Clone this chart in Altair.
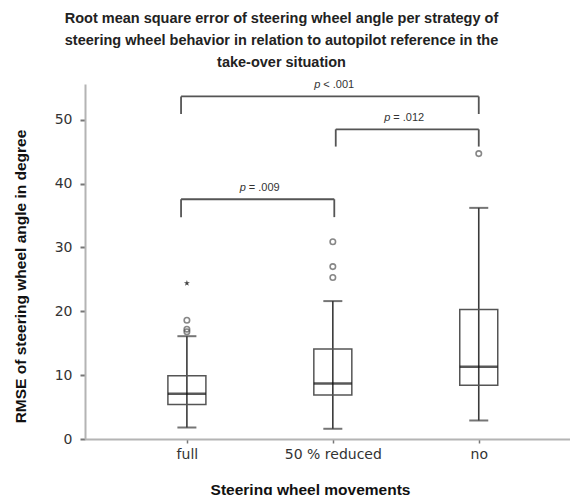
import altair as alt
import pandas as pd

# ---- data ----
categories = ["full", "50 % reduced", "no"]
cat_index = [0, 1, 2]
whisker_low = [1.8, 1.6, 2.9]
q1 = [5.4, 6.9, 8.4]
median = [7.1, 8.7, 11.3]
q3 = [9.9, 14.1, 20.3]
whisker_high = [16.1, 21.6, 36.2]

outlier_group = [0, 0, 0, 1, 1, 1, 2]
outlier_value = [16.8, 17.2, 18.6, 25.3, 27.0, 30.9, 44.7]
extreme_group = [0]
extreme_value = [24.4]

bracket_start = [-0.04, 1.02, -0.04]
bracket_end = [1.01, 2.0, 2.0]
bracket_top = [37.55, 48.5, 53.65]
bracket_leg_bottom = [34.75, 45.8, 50.9]
label_center = [0.51, 1.50, 1.02]
label_rest = ["= .009", "= .012", "< .001"]

title_lines = [
    "Root mean square error of steering wheel angle per strategy of",
    "steering wheel behavior in relation to autopilot reference in the",
    "take-over situation",
]

boxes = pd.DataFrame({
    "idx": cat_index, "cat": categories, "low": whisker_low, "q1": q1,
    "median": median, "q3": q3, "high": whisker_high,
})
outliers = pd.DataFrame({"idx": outlier_group, "v": outlier_value})
extremes = pd.DataFrame({"idx": extreme_group, "v": extreme_value})
brackets = pd.DataFrame({
    "x1": bracket_start, "x2": bracket_end, "top": bracket_top,
    "bottom": bracket_leg_bottom, "mid": label_center, "rest": label_rest,
})
legs = pd.DataFrame({
    "x": bracket_start + bracket_end,
    "top": bracket_top + bracket_top,
    "bottom": bracket_leg_bottom + bracket_leg_bottom,
})

label_expr = "[" + ",".join('"%s"' % c for c in categories) + "][datum.value]"

x_scale = alt.Scale(domain=[-0.664, 2.591], nice=False, zero=False)
y_scale = alt.Scale(domain=[0, 55.6], nice=False, zero=True)

x_axis = alt.Axis(
    values=cat_index, labelExpr=label_expr, title="Steering wheel movements",
    grid=False, domainColor="#b4b4b4", domainWidth=2, tickColor="#777777",
    tickWidth=1.5, tickSize=4, labelPadding=4, labelFont="DejaVu Sans",
    labelFontSize=14, labelColor="#333333", titleFont="Liberation Sans",
    titleFontSize=15.5, titleFontWeight="bold", titleColor="#111111",
    titleX=225, titleY=55, titleBaseline="alphabetic", titleAnchor="start",
    titleAlign="center",
)
y_axis = alt.Axis(
    values=[0, 10, 20, 30, 40, 50], title="RMSE of steering wheel angle in degree",
    grid=False, domainColor="#b4b4b4", domainWidth=2, tickColor="#777777",
    tickWidth=2, tickSize=5, labelPadding=8, labelFont="DejaVu Sans",
    labelFontSize=14, labelColor="#333333", titleFont="Liberation Sans",
    titleFontSize=15.5, titleFontWeight="bold", titleColor="#111111",
    titleX=-65, titleY=192, titleBaseline="middle", titleAngle=-90,
    titleAlign="center", titleAnchor="start",
)

base = alt.Chart(boxes)

whisker = base.mark_rule(color="#3a3a3a", strokeWidth=1.6).encode(
    x=alt.X("idx:Q", scale=x_scale, axis=x_axis),
    y=alt.Y("low:Q", scale=y_scale, axis=y_axis),
    y2="high:Q",
)
cap_low = base.mark_tick(orient="horizontal", size=19, thickness=2, color="#3a3a3a").encode(
    x=alt.X("idx:Q", scale=x_scale), y=alt.Y("low:Q", scale=y_scale)
)
cap_high = base.mark_tick(orient="horizontal", size=19, thickness=2, color="#3a3a3a").encode(
    x=alt.X("idx:Q", scale=x_scale), y=alt.Y("high:Q", scale=y_scale)
)
box = base.mark_bar(orient="vertical", size=38, fillOpacity=0, stroke="#555555",
                    strokeWidth=1.5).encode(
    x=alt.X("idx:Q", scale=x_scale), y=alt.Y("q1:Q", scale=y_scale), y2="q3:Q"
)
med = base.mark_tick(orient="horizontal", size=38, thickness=2.5, color="#111111").encode(
    x=alt.X("idx:Q", scale=x_scale), y=alt.Y("median:Q", scale=y_scale)
)
outl = alt.Chart(outliers).mark_point(shape="circle", size=30, filled=False,
                                      stroke="#555555", strokeWidth=1.6).encode(
    x=alt.X("idx:Q", scale=x_scale), y=alt.Y("v:Q", scale=y_scale)
)
star_path = ("M0,-1L0.225,-0.309L0.951,-0.309L0.363,0.118L0.588,0.809L0,0.382"
             "L-0.588,0.809L-0.363,0.118L-0.951,-0.309L-0.225,-0.309Z")
ext = alt.Chart(extremes).mark_point(shape=star_path, size=40, filled=True,
                                     color="#444444", opacity=1).encode(
    x=alt.X("idx:Q", scale=x_scale), y=alt.Y("v:Q", scale=y_scale)
)
br_h = alt.Chart(brackets).mark_rule(color="#555555", strokeWidth=1.8).encode(
    x=alt.X("x1:Q", scale=x_scale), x2="x2:Q", y=alt.Y("top:Q", scale=y_scale)
)
br_v = alt.Chart(legs).mark_rule(color="#555555", strokeWidth=1.8).encode(
    x=alt.X("x:Q", scale=x_scale), y=alt.Y("top:Q", scale=y_scale), y2="bottom:Q"
)
p_txt = alt.Chart(brackets).mark_text(
    text="p", fontStyle="italic", font="Liberation Sans", fontSize=11,
    align="left", baseline="middle", dx=-21.5, dy=-11, color="#333333"
).encode(x=alt.X("mid:Q", scale=x_scale), y=alt.Y("top:Q", scale=y_scale))
rest_txt = alt.Chart(brackets).mark_text(
    font="Liberation Sans", fontSize=11, align="left", baseline="middle",
    dx=-12.5, dy=-11, color="#333333"
).encode(x=alt.X("mid:Q", scale=x_scale), y=alt.Y("top:Q", scale=y_scale),
         text="rest:N")

chart = alt.layer(
    whisker, cap_low, cap_high, box, med, outl, ext, br_h, br_v, p_txt, rest_txt
).properties(
    width=485, height=355,
    title=alt.TitleParams(
        text=title_lines, anchor="middle", dx=-46, fontSize=14.5, lineHeight=22,
        font="Liberation Sans", fontWeight="bold", color="#222222", offset=9,
    ),
    autosize=alt.AutoSizeParams(type="none"),
    padding={"left": 77, "top": 76, "right": 0, "bottom": 56},
).configure_view(stroke=None)

chart.save("out.html", embed_options={"renderer": "svg", "actions": False})
